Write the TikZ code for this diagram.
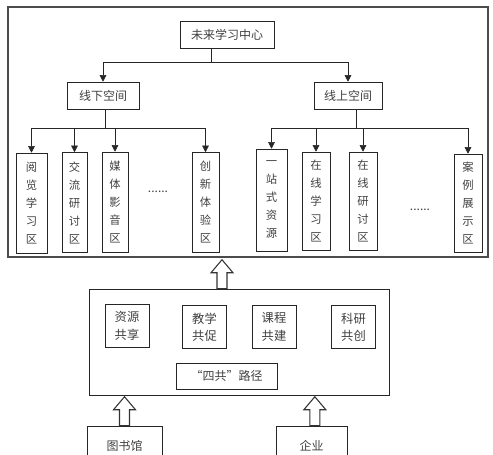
\documentclass[tikz,border=0pt]{standalone}
\usepackage{fontspec}
\newfontfamily\cjk{Noto Sans CJK SC}
\usetikzlibrary{arrows.meta}

\tikzset{
    box/.style={draw=black!85, inner sep=1pt, text=black!75, font=\cjk\fontsize{9}{13}\selectfont},
    vbox/.style={box, align=center, minimum height=75pt, font=\cjk\fontsize{8.5}{13.5}\selectfont},
    sbox/.style={box, align=center, minimum width=33pt, minimum height=32.25pt, font=\cjk\fontsize{9.2}{13}\selectfont},
    link/.style={draw=black!85, -{Triangle[length=5pt,width=5pt]}},
    hollow up/.pic={
        \draw[draw=black!80, fill=white, line width=0.8pt] (-5,0) -- (-5,-16) -- (-11,-16) -- (0,-29) -- (11,-16) -- (5,-16) -- (5,0) -- cycle;
    }
}

\begin{document}
\begin{tikzpicture}[x=0.75pt, y=-0.75pt]
    \clip (0,0) rectangle (493,454);

    \node[draw=black!70, line width=1pt, minimum width=360pt, minimum height=187.5pt] (frame) at (248,132) {};

    \node[box, minimum width=70.5pt, minimum height=20.25pt] (center) at (227,34.5) {未来学习中心};
    \node[box, minimum width=54pt, minimum height=20.25pt] (offline) at (103,95.5) {线下空间};
    \node[box, minimum width=51pt, minimum height=20.25pt] (online) at (348,95.5) {线上空间};

    \node[vbox, minimum width=23.25pt] (read) at (31.5,203) {阅\\览\\学\\习\\区};
    \node[vbox, minimum width=18.75pt] (talk) at (74.5,202.5) {交\\流\\研\\讨\\区};
    \node[vbox, minimum width=19.5pt] (media) at (115,202) {媒\\体\\影\\音\\区};
    \node[box, draw=none] (dotsl) at (158,192) {......};
    \node[vbox, minimum width=20.25pt] (create) at (205.5,202.5) {创\\新\\体\\验\\区};

    \node[vbox, minimum width=23.25pt, minimum height=76.5pt] (stop) at (271.5,200) {一\\站\\式\\资\\源};
    \node[vbox, minimum width=21pt, minimum height=73.5pt] (learn) at (316,201) {在\\线\\学\\习\\区};
    \node[vbox, minimum width=21pt, minimum height=73.5pt] (discuss) at (363,201) {在\\线\\研\\讨\\区};
    \node[box, draw=none] (dotsr) at (420,210) {......};
    \node[vbox, minimum width=21pt, minimum height=73.5pt] (cases) at (468,203) {案\\例\\展\\示\\区};

    \coordinate (j0) at (211,62);
    \coordinate (j1) at (105,128);
    \coordinate (j2) at (356,128);

    \draw[draw=black!85] (j0 |- center.south) -- (j0);
    \draw[link] (j0) -| (offline.north);
    \draw[link] (j0) -| (online.north);

    \draw[draw=black!85] (j1 |- offline.south) -- (j1);
    \foreach \n in {read, talk, media, create}
        \draw[link] (j1) -| (\n.north);

    \draw[draw=black!85] (j2 |- online.south) -- (j2);
    \foreach \n in {stop, learn, discuss, cases}
        \draw[link] (j2) -| (\n.north);

    \node[box, minimum width=225pt, minimum height=79.5pt] (ways) at (239,342) {};
    \node[sbox] (share) at (127,326) {资源\\共享};
    \node[sbox] (teach) at (204.5,327) {教学\\共促};
    \node[sbox] (course) at (274,327) {课程\\共建};
    \node[sbox] (research) at (353.5,327) {科研\\共创};
    \node[box, minimum width=75.75pt, minimum height=19.5pt] (path) at (226.5,376) {“四共”路径};

    \node[box, minimum width=56.25pt, minimum height=30pt] (library) at (124.5,446) {图书馆};
    \node[box, minimum width=53.25pt, minimum height=30pt] (company) at (311.5,446) {企业};

    \pic at ([xshift=-12.75pt]ways.north) {hollow up};
    \pic at (library.north) {hollow up};
    \pic at ([xshift=2.5pt]company.north) {hollow up};
\end{tikzpicture}
\end{document}
